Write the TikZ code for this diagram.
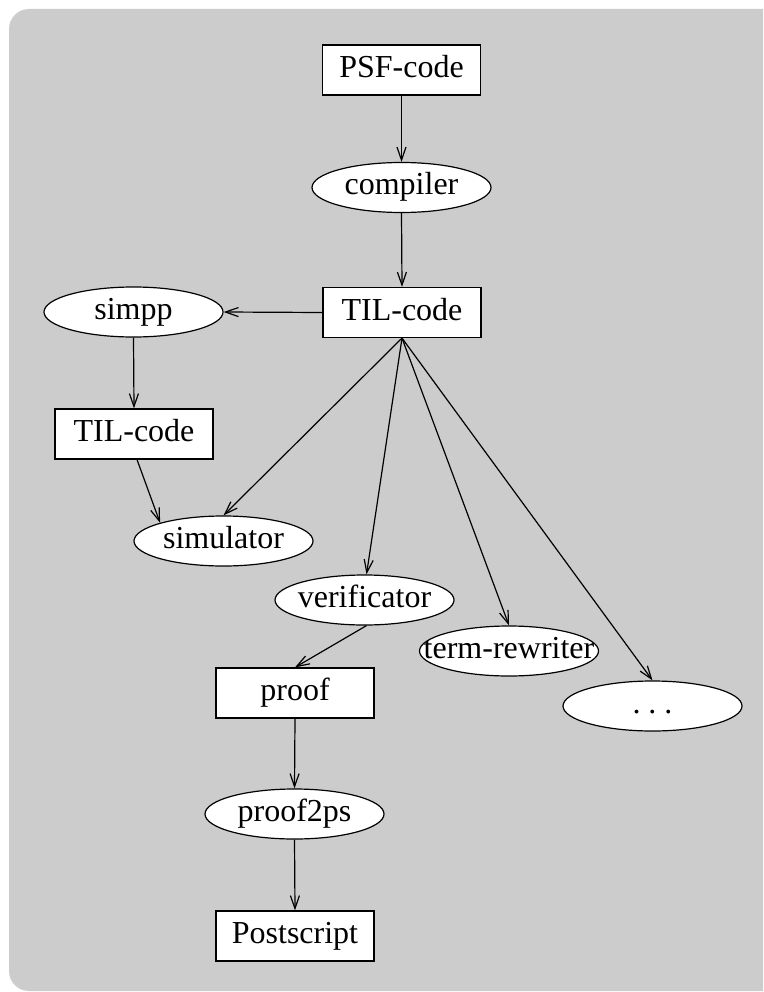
\documentclass[tikz,border=0pt]{standalone}
\usepackage{fontspec}
\setmainfont{Liberation Serif}
\usetikzlibrary{shapes.geometric,arrows.meta}
\definecolor{bggray}{HTML}{CCCCCC}
\tikzset{
  boxnode/.style={draw=black, fill=white, line width=1.2pt, rectangle,
    minimum width=158pt, minimum height=50pt, inner sep=0pt,
    text height=22pt, text depth=7pt, font=\fontsize{32}{36}\selectfont},
  ellnode/.style={draw=black, fill=white, line width=1.2pt, ellipse,
    minimum width=179pt, minimum height=50pt, inner sep=0pt,
    text height=22pt, text depth=7pt, font=\fontsize{32}{36}\selectfont},
  conn/.style={line width=1.2pt, draw=black, -{Straight Barb[length=13pt,width=9pt,line width=1.2pt]}}
}
\newcommand{\zw}[1]{\makebox[0pt]{#1}}
\begin{document}
\begin{tikzpicture}[x=1pt,y=-1pt]
\useasboundingbox (0,0) rectangle (763,992);
\clip (0,0) rectangle (763,992);
\fill[bggray, rounded corners=20pt] (9,9) rectangle (790,991);

\node[boxnode] (psf)   at (401.5,70)  {PSF-code};
\node[ellnode] (comp)  at (401.5,187.5) {\zw{compiler}};
\node[boxnode] (til)   at (402,312.5) {TIL-code};
\node[ellnode] (simpp) at (133.5,312) {\zw{simpp}};
\node[boxnode] (til2)  at (134,434)   {TIL-code};
\node[ellnode] (sim)   at (223.5,541) {\zw{simulator}};
\node[ellnode] (verif) at (364.5,600) {\zw{verificator}};
\node[ellnode] (term)  at (509,651)   {\zw{term-rewriter}};
\node[ellnode] (dots)  at (652.5,706) {\zw{.\hspace{0.25em}.\hspace{0.25em}.}};
\node[boxnode] (proof) at (295,693)   {proof};
\node[ellnode] (p2ps)  at (294.5,814) {\zw{proof2ps}};
\node[boxnode] (post)  at (295,936)   {Postscript};

\draw[conn] (psf.south) -- (comp.north);
\draw[conn] (comp.south) -- (til.north);
\draw[conn] (til.west) -- (simpp.east);
\draw[conn] (simpp.south) -- (til2.north);
\draw[conn] ([xshift=3pt]til2.south) -- (sim.164.5);
\draw[conn] (til.south) -- (sim.north);
\draw[conn] (til.south) -- ([xshift=2pt]verif.north);
\draw[conn] (til.south) -- (term.north);
\draw[conn] (til.south) -- (dots.north);
\draw[conn] ([xshift=2pt]verif.south) -- (proof.north);
\draw[conn] (proof.south) -- (p2ps.north);
\draw[conn] (p2ps.south) -- (post.north);
\end{tikzpicture}
\end{document}
